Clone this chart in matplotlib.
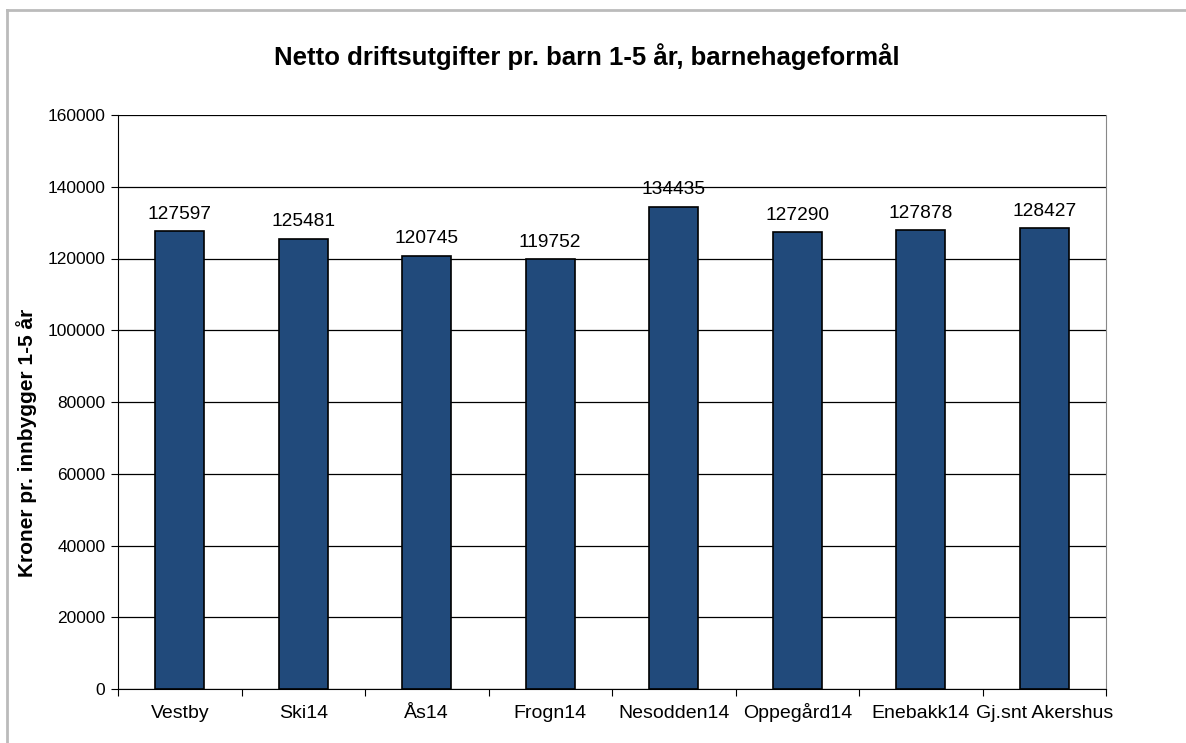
import matplotlib
matplotlib.use("Agg")
import matplotlib.pyplot as plt
from matplotlib.lines import Line2D

categories = ["Vestby", "Ski14", "Ås14", "Frogn14", "Nesodden14", "Oppegård14", "Enebakk14", "Gj.snt Akershus"]
values = [127597, 125481, 120745, 119752, 134435, 127290, 127878, 128427]
yticks = [0, 20000, 40000, 60000, 80000, 100000, 120000, 140000, 160000]

plt.rcParams['font.family'] = ['Liberation Sans', 'DejaVu Sans']

W, H = 1186, 743
fig = plt.figure(figsize=(W / 100, H / 100), dpi=100)
ax = fig.add_axes([118 / W, 1 - 689 / H, (1106 - 118) / W, (689 - 115) / H])

x = list(range(len(categories)))
ax.bar(x, values, width=0.4, color="#214A7B", edgecolor="black", linewidth=1.2, zorder=3)
for xi, v in zip(x, values):
    ax.text(xi, v + 2400, str(v), ha="center", va="bottom", fontsize=13.8)

ax.set_xlim(-0.5, len(categories) - 0.5)
ax.set_ylim(0, 160000)
ax.set_yticks(yticks)
ax.set_yticklabels([str(t) for t in yticks], fontsize=12.5)
ax.yaxis.grid(True, color="black", linewidth=0.9, zorder=0)
# category boundaries get the tick marks, names sit in between
ax.set_xticks([i - 0.5 for i in range(len(categories) + 1)])
ax.set_xticklabels([])
ax.set_xticks(x, minor=True)
ax.set_xticklabels(categories, minor=True, fontsize=14)
ax.tick_params(axis="x", which="minor", length=0, pad=21)
for lab in ax.get_xticklabels(minor=True):
    lab.set_verticalalignment("baseline")
ax.tick_params(axis="x", which="major", length=5, direction="out", color="black")
ax.tick_params(axis="y", length=5, direction="out", pad=4)

ax.spines["top"].set_visible(False)
ax.spines["right"].set_color("#888888")
ax.spines["left"].set_color("black")
ax.spines["bottom"].set_color("black")

fig.text(27 / W, 1 - 443 / H, "Kroner pr. innbygger 1-5 år", rotation=90,
         ha="center", va="center", fontsize=15, fontweight="bold")
fig.text(587 / W, 1 - 57 / H, "Netto driftsutgifter pr. barn 1-5 år, barnehageformål",
         ha="center", va="center", fontsize=18.5, fontweight="bold")

# outer chart frame
fig.add_artist(Line2D([7 / W, 1], [1 - 10 / H, 1 - 10 / H], color="#BBBBBB", linewidth=2, transform=fig.transFigure))
fig.add_artist(Line2D([7 / W, 7 / W], [0, 1 - 10 / H], color="#BBBBBB", linewidth=2, transform=fig.transFigure))

fig.savefig("out.png", dpi=100)
